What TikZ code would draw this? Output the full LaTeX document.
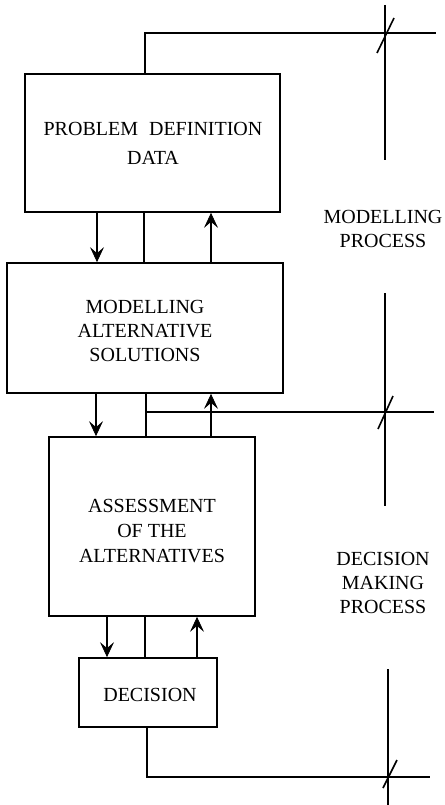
\documentclass[tikz,border=0pt]{standalone}
\usepackage{fontspec}
\setmainfont{Liberation Serif}
\usetikzlibrary{arrows.meta}
\begin{document}
\begin{tikzpicture}[x=1pt,y=-1pt,
  line width=1.7pt,
  every node/.style={font=\fontsize{20}{24}\selectfont},
  stagebox/.style={draw,line width=1.7pt,inner sep=0pt,align=center},
  flow/.style={-{Stealth[length=15pt,width=14pt,inset=6pt,line width=0.8pt]}},
  boundary/.style={line width=1.6pt},
  tick/.style={line width=1.6pt},
  sidelabel/.style={align=center}]
\useasboundingbox (0,0) rectangle (444,805);

% the four stages
\node[stagebox,minimum width=255pt,minimum height=138pt] (def) at (152.5,143) {};
\node[align=center,font=\fontsize{20}{29}\selectfont] (deftext) at (153,143)
  {PROBLEM\hspace{0.55em}DEFINITION\\DATA};
\node[stagebox,minimum width=276pt,minimum height=130pt] (mod) at (145,328) {};
\node[align=center] (modtext) at (145,330.5)
  {MODELLING\\ALTERNATIVE\\SOLUTIONS};
\node[stagebox,minimum width=206pt,minimum height=179pt] (ass) at (152,526.5) {};
\node[sidelabel,font=\fontsize{20}{25}\selectfont] (asstext) at (152,531)
  {ASSESSMENT\\OF THE\\ALTERNATIVES};
\node[stagebox,minimum width=138pt,minimum height=69pt] (dec) at (148,692.5) {};
\node (dectext) at (150,695) {DECISION};

% links between stages
\draw[flow] (def.south -| 97,0) -- (mod.north -| 97,0);
\draw (def.south -| 144,0) -- (mod.north -| 144,0);
\draw[flow] (mod.north -| 211,0) -- (def.south -| 211,0);

\draw[flow] (mod.south -| 96,0) -- (ass.north -| 96,0);
\draw (mod.south -| 146,0) -- (ass.north -| 146,0);
\draw[flow] (ass.north -| 211,0) -- (mod.south -| 211,0);

\draw[flow] (ass.south -| 107,0) -- (dec.north -| 107,0);
\draw (ass.south -| 145,0) -- (dec.north -| 145,0);
\draw[flow] (dec.north -| 197,0) -- (ass.south -| 197,0);

% process boundaries
\coordinate (topend) at (436,33);
\coordinate (midstart) at (146,412);
\coordinate (midend) at (434,412);
\coordinate (botend) at (430,777);
\draw[boundary] (def.north -| 145,0) |- (topend);
\draw[boundary] (midstart) -- (midend);
\draw[boundary] (dec.south -| 147,0) |- (botend);

% process axis
\coordinate (a1) at (385,5);   \coordinate (a2) at (385,160);
\coordinate (a3) at (385,293); \coordinate (a4) at (385,506);
\coordinate (a5) at (388,669); \coordinate (a6) at (388,805);
\draw[boundary] (a1) -- (a2);
\draw[boundary] (a3) -- (a4);
\draw[boundary] (a5) -- (a6);

% crossing marks
\coordinate (t1a) at (377,53);  \coordinate (t1b) at (394,18);
\coordinate (t2a) at (378,429); \coordinate (t2b) at (393,396);
\coordinate (t3a) at (383,788); \coordinate (t3b) at (397,760);
\draw[tick] (t1a) -- (t1b);
\draw[tick] (t2a) -- (t2b);
\draw[tick] (t3a) -- (t3b);

% process names
\node[sidelabel] (modproc) at (383,229)
  {MODELLING\\PROCESS};
\node[sidelabel] (decproc) at (383,583)
  {DECISION\\MAKING\\PROCESS};
\end{tikzpicture}
\end{document}
